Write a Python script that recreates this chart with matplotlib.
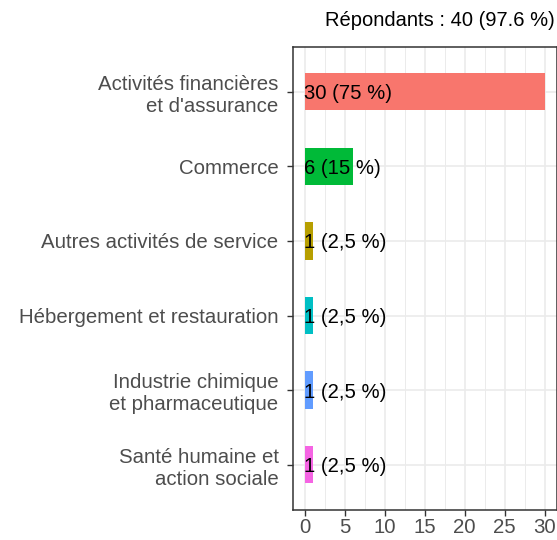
import numpy as np
import matplotlib.pyplot as plt
from matplotlib.ticker import MultipleLocator

plt.rcParams['font.family'] = ['Liberation Sans', 'DejaVu Sans']

categories = ["Activités financières\net d'assurance", "Commerce",
              "Autres activités de service", "Hébergement et restauration",
              "Industrie chimique\net pharmaceutique", "Santé humaine et\naction sociale"]
counts = [30, 6, 1, 1, 1, 1]
labels = ["30 (75 %)", "6 (15 %)", "1 (2,5 %)", "1 (2,5 %)", "1 (2,5 %)", "1 (2,5 %)"]
colors = ["#F8766D", "#00BA38", "#B79F00", "#00BFC4", "#619CFF", "#F564E3"]
title = "Répondants : 40 (97.6 %)"

fig = plt.figure(figsize=(5.57, 5.4), dpi=100)
ax = fig.add_axes([292.5/557, 1-509.5/540, 264/557, 462.5/540])

y = np.arange(len(categories))[::-1] + 1
ax.barh(y, counts, height=0.5, color=colors, zorder=2)
for yi, lab in zip(y, labels):
    ax.text(0, yi, lab, ha='left', va='center_baseline', fontsize=14.6, color='black', zorder=3)

ax.set_xlim(-1.5, 31.5)
ax.set_ylim(0.4, 6.6)
ax.set_yticks(y)
ax.set_yticklabels(categories, fontsize=14.7, color='#4D4D4D', linespacing=1.2)
ax.xaxis.set_major_locator(MultipleLocator(5))
ax.xaxis.set_minor_locator(MultipleLocator(2.5))
ax.tick_params(axis='x', labelsize=14.7, labelcolor='#4D4D4D', color='#333333', length=4, width=1, pad=2)
ax.tick_params(axis='y', color='#333333', length=4, width=1, pad=6)
ax.tick_params(axis='x', which='minor', length=0)
ax.grid(True, which='major', color='#EBEBEB', linewidth=1.2, zorder=0)
ax.grid(True, which='minor', axis='x', color='#EBEBEB', linewidth=0.7, zorder=0)
ax.set_axisbelow(True)
for s in ax.spines.values():
    s.set_color('#333333')
    s.set_linewidth(1.1)

fig.text(555/557, 1-20/540, title, ha='right', va='center', fontsize=14.5, color='black')

fig.savefig('out.png', dpi=100)
